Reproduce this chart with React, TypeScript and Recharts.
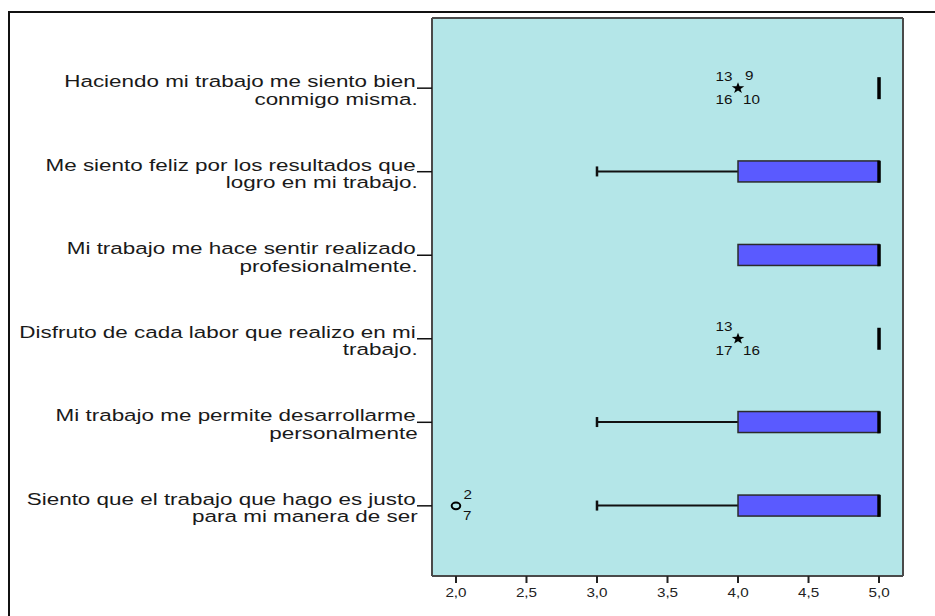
import React from "react"
import { ComposedChart, Bar, Scatter, XAxis, YAxis, CartesianGrid, ReferenceLine } from "recharts"

// item labels (two lines each), top to bottom
const categories = [
  ["Haciendo mi trabajo me siento bien", "conmigo misma."],
  ["Me siento feliz por los resultados que", "logro en mi trabajo."],
  ["Mi trabajo me hace sentir realizado", "profesionalmente."],
  ["Disfruto de cada labor que realizo en mi", "trabajo."],
  ["Mi trabajo me permite desarrollarme", "personalmente"],
  ["Siento que el trabajo que hago es justo", "para mi manera de ser"],
]

// box plot statistics per item
const lowWhisker = [5, 3, 4, 5, 3, 3]
const q1 = [5, 4, 4, 5, 4, 4]
const median = [5, 5, 5, 5, 5, 5]
const q3 = [5, 5, 5, 5, 5, 5]

// outliers: item index, value, kind, case ids and where the id sits
const outlierCats = [0, 3, 5]
const outlierValues = [4, 4, 2]
const outlierKinds = ["extreme", "extreme", "outlier"]
const outlierIds = [["13", "9", "16", "10"], ["13", "17", "16"], ["2", "7"]]
const outlierSlots = [["ul", "ur", "ll", "lr"], ["ul", "ll", "lr"], ["ur", "lr"]]

const xTicks = [2, 2.5, 3, 3.5, 4, 4.5, 5]
const xDomain = [1.83, 5.17]
const yDomain = [-0.84, 5.84]

const FONT = '"Liberation Sans", Arial, sans-serif'
const LABEL_SIZE = 17
const LABEL_STRETCH = 1.32
const NUM_STRETCH = 1.22

const rows = categories.map((c, i) => ({
  idx: i,
  low: lowWhisker[i],
  q1: q1[i],
  median: median[i],
  q3: q3[i],
}))

const medianPoints = rows.map((r) => ({ idx: r.idx, v: r.median }))

const outlierPoints = outlierCats.map((c, i) => ({
  idx: c,
  v: outlierValues[i],
  kind: outlierKinds[i],
  ids: outlierIds[i],
  slots: outlierSlots[i],
}))

const slotOffsets = {
  extreme: {
    ul: { dx: -5.5, dy: -12, anchor: "end" },
    ur: { dx: 7, dy: -13, anchor: "start" },
    ll: { dx: -5.5, dy: 11.5, anchor: "end" },
    lr: { dx: 5, dy: 11.5, anchor: "start" },
  },
  outlier: {
    ur: { dx: 7.5, dy: -11, anchor: "start" },
    lr: { dx: 7, dy: 10, anchor: "start" },
  },
}

const YTick = (props: any) => {
  const { x, y, payload } = props
  const lines = categories[payload.value]
  if (!lines) return null
  return (
    <g transform={`translate(${x},${y}) scale(${LABEL_STRETCH},1)`}>
      <text x={-1} y={-1} textAnchor="end" fontFamily={FONT} fontSize={LABEL_SIZE} fill="#1a1a1a">
        {lines[0]}
      </text>
      <text x={0.5} y={16.5} textAnchor="end" fontFamily={FONT} fontSize={LABEL_SIZE} fill="#1a1a1a">
        {lines[1]}
      </text>
    </g>
  )
}

const XTick = (props: any) => {
  const { x, y, payload } = props
  return (
    <g transform={`translate(${x},${y}) scale(${NUM_STRETCH},1)`}>
      <text x={0} y={14.5} textAnchor="middle" fontFamily={FONT} fontSize={12.5} fill="#222">
        {String(payload.value.toFixed(1)).replace(".", ",")}
      </text>
    </g>
  )
}

const BoxShape = (props: any) => {
  const { x, y, width, height } = props
  if (!(width > 0.5)) return <g />
  return <rect x={x} y={y} width={width} height={height} fill="#5a5aff" stroke="#2b2b2b" strokeWidth={1.5} />
}

const WhiskerShape = (props: any) => {
  const { x, y, width, height } = props
  if (!(width > 0.5)) return <g />
  const cy = y + height / 2
  return (
    <g>
      <line x1={x} x2={x + width} y1={cy} y2={cy} stroke="#111" strokeWidth={2} />
      <line x1={x} x2={x} y1={cy - 5} y2={cy + 5} stroke="#111" strokeWidth={2.5} />
    </g>
  )
}

const MedianShape = (props: any) => {
  const { cx, cy } = props
  return <line x1={cx} x2={cx} y1={cy - 11} y2={cy + 11} stroke="#000" strokeWidth={3.5} />
}

const OutlierShape = (props: any) => {
  const { cx, cy, payload } = props
  const offs = slotOffsets[payload.kind]
  let marker
  if (payload.kind === "extreme") {
    const pts = []
    for (let k = 0; k < 10; k++) {
      const r = k % 2 === 0 ? 6 : 2.4
      const a = -Math.PI / 2 + (k * Math.PI) / 5
      pts.push(`${cx + r * Math.cos(a) * 1.1},${cy + r * Math.sin(a)}`)
    }
    marker = <polygon points={pts.join(" ")} fill="#000" />
  } else {
    marker = <ellipse cx={cx} cy={cy} rx={4.3} ry={3.3} fill="none" stroke="#000" strokeWidth={2} />
  }
  return (
    <g>
      {marker}
      {payload.ids.map((id: string, i: number) => {
        const o = offs[payload.slots[i]]
        return (
          <g key={i} transform={`translate(${cx + o.dx},${cy + o.dy + 4.5}) scale(${NUM_STRETCH},1)`}>
            <text x={0} y={0} textAnchor={o.anchor} fontFamily={FONT} fontSize={12.5} fill="#111">
              {id}
            </text>
          </g>
        )
      })}
    </g>
  )
}

export default function App() {
  return (
    <div style={{ position: "absolute", left: 0, top: 0, width: 935, height: 616, overflow: "hidden", background: "#fff" }}>
      <div
        style={{
          position: "absolute",
          left: 8,
          top: 11,
          width: 980,
          height: 660,
          border: "2px solid #111",
        }}
      />
      <div style={{ position: "absolute", left: 0, top: 0 }}>
        <ComposedChart
          layout="vertical"
          width={935}
          height={616}
          data={rows}
          margin={{ top: 18, right: 32, bottom: 0, left: 12 }}
          barSize={21}
          barGap={-21}
        >
          <CartesianGrid fill="#b4e6e8" horizontal={false} vertical={false} />
          <XAxis
            type="number"
            domain={xDomain}
            ticks={xTicks}
            allowDataOverflow
            height={40}
            tickSize={7}
            tickMargin={0}
            axisLine={{ stroke: "#4a4a4a", strokeWidth: 2 }}
            tickLine={{ stroke: "#222", strokeWidth: 2 }}
            tick={<XTick />}
          />
          <YAxis
            type="number"
            dataKey="idx"
            domain={yDomain}
            ticks={[0, 1, 2, 3, 4, 5]}
            allowDataOverflow
            width={420}
            tickSize={15}
            tickMargin={0}
            axisLine={{ stroke: "#4a4a4a", strokeWidth: 2 }}
            tickLine={{ stroke: "#111", strokeWidth: 1.5 }}
            tick={<YTick />}
          />
          <ReferenceLine x={xDomain[1]} stroke="#4a4a4a" strokeWidth={2} ifOverflow="visible" />
          <ReferenceLine y={yDomain[0]} stroke="#4a4a4a" strokeWidth={2} ifOverflow="visible" />
          <Bar dataKey={(d: any) => [d.low, d.q1]} shape={<WhiskerShape />} isAnimationActive={false} />
          <Bar dataKey={(d: any) => [d.q1, d.q3]} shape={<BoxShape />} isAnimationActive={false} />
          <Scatter data={medianPoints} dataKey="v" shape={<MedianShape />} isAnimationActive={false} />
          <Scatter data={outlierPoints} dataKey="v" shape={<OutlierShape />} isAnimationActive={false} />
        </ComposedChart>
      </div>
    </div>
  )
}
